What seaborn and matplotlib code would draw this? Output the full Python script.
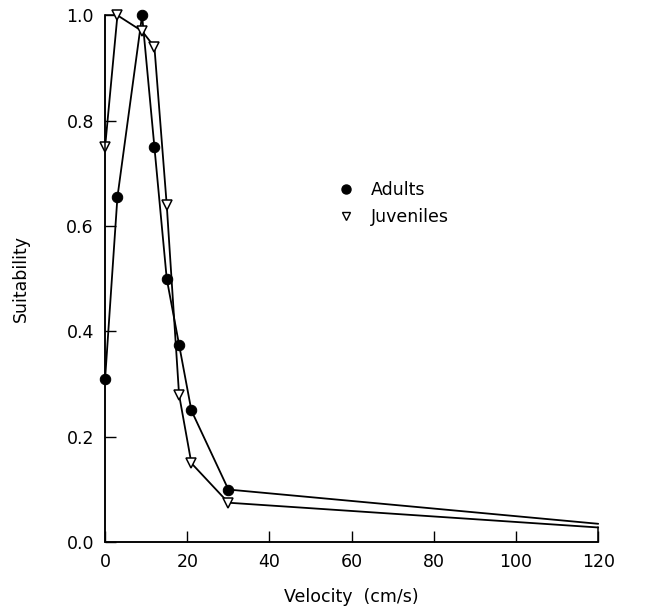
import matplotlib
matplotlib.use("Agg")
import matplotlib.pyplot as plt
from matplotlib.lines import Line2D
import seaborn as sns
import pandas as pd

# Habitat suitability curves versus water velocity
velocity = [0, 3, 9, 12, 15, 18, 21, 30, 120]
adults = [0.31, 0.655, 1.0, 0.75, 0.5, 0.375, 0.25, 0.10, 0.035]
juveniles = [0.75, 1.0, 0.97, 0.94, 0.64, 0.28, 0.15, 0.075, 0.028]

# closing outline of the juvenile curve
outline_x = [3, 0, 0, 120, 120]
outline_y = [1.0, 1.0, 0.0, 0.0, 0.028]

x_ticks = [0, 20, 40, 60, 80, 100, 120]
y_ticks = [0.0, 0.2, 0.4, 0.6, 0.8, 1.0]

sns.set_style("white")
plt.rcParams["font.family"] = ["DejaVu Sans"]

fig = plt.figure(figsize=(6.61, 6.12), dpi=100)
ax = fig.add_axes([0.159, 0.114, 0.746, 0.861])

df_a = pd.DataFrame({"v": velocity, "s": adults})
df_j = pd.DataFrame({"v": velocity, "s": juveniles})
df_o = pd.DataFrame({"v": outline_x, "s": outline_y})

# the end point at 120 cm/s carries no symbol
marked = list(range(len(velocity) - 1))

common = dict(x="v", y="s", sort=False, estimator=None, errorbar=None,
              color="black", ax=ax, clip_on=False)
sns.lineplot(data=df_o, lw=1.1, **common)
sns.lineplot(data=df_a, lw=1.3, marker="o", markersize=7.5,
             markerfacecolor="black", markeredgecolor="black",
             markevery=marked, **common)
sns.lineplot(data=df_j, lw=1.3, marker="v", markersize=6.5,
             markerfacecolor="white", markeredgecolor="black",
             markeredgewidth=1.1, markevery=marked, **common)

ax.set_xlim(0, 120)
ax.set_ylim(0, 1.0)
ax.set_xticks(x_ticks)
ax.set_yticks(y_ticks)
ax.set_xticklabels([str(t) for t in x_ticks], fontsize=12.5)
ax.set_yticklabels([f"{t:.1f}" for t in y_ticks], fontsize=12.5)
ax.tick_params(direction="in", length=8, width=1, color="black", pad=8,
               bottom=True, left=True, labelcolor="black")
for side in ["top", "right"]:
    ax.spines[side].set_visible(False)
for side in ["left", "bottom"]:
    ax.spines[side].set_color("black")
    ax.spines[side].set_linewidth(1.1)

ax.set_xlabel("Velocity  (cm/s)", fontsize=12.5, labelpad=12, color="black")
ax.set_ylabel("Suitability", fontsize=12.5, labelpad=26, color="black")

handles = [
    Line2D([], [], ls="none", marker="o", markersize=6.5, color="black"),
    Line2D([], [], ls="none", marker="v", markersize=5.5,
           markerfacecolor="white", markeredgecolor="black"),
]
leg = ax.legend(handles, ["Adults", "Juveniles"], loc="upper left",
                bbox_to_anchor=(0.44, 0.715), frameon=False, fontsize=12.5,
                handlelength=1.0, handletextpad=0.9, labelspacing=0.5)
for t in leg.get_texts():
    t.set_color("black")

fig.savefig("out.png", dpi=100)
